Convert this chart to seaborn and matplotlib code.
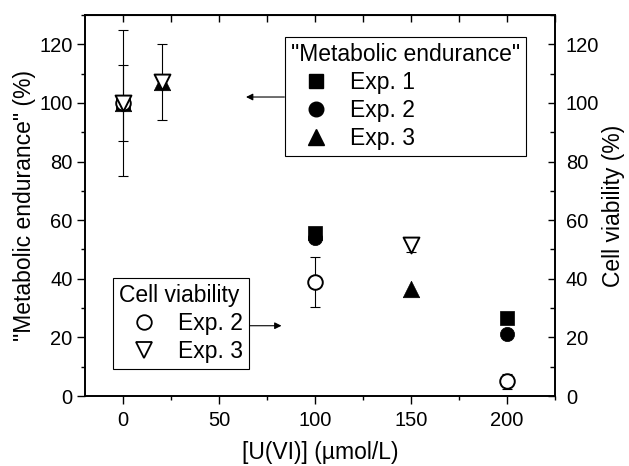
import matplotlib
matplotlib.use("Agg")
import matplotlib.pyplot as plt
from matplotlib.ticker import MultipleLocator
from matplotlib.lines import Line2D
import seaborn as sns
import pandas as pd

# "Metabolic endurance" (filled symbols)
conc_me1 = [0, 100, 200]
me_exp1 = [100, 55.5, 26.5]
conc_me2 = [0, 100, 200]
me_exp2 = [100, 53.8, 21.2]
conc_me3 = [0, 20, 150]
me_exp3 = [100, 107, 36.5]

# Cell viability (open symbols)
conc_cv2 = [0, 100, 200]
cv_exp2 = [100, 39, 5]
cv_err2 = [25, 8.5, 2.5]
conc_cv3 = [0, 20, 150]
cv_exp3 = [100, 107, 51.5]
cv_err3 = [13, 13, 2.5]

sns.set_style("ticks")
plt.rcParams["font.family"] = ["Liberation Sans", "DejaVu Sans"]
for k in ("text.color", "axes.labelcolor", "xtick.color", "ytick.color", "axes.edgecolor"):
    plt.rcParams[k] = "black"

TICK_FS = 14.5
LAB_FS = 16.5

fig = plt.figure(figsize=(6.29, 4.66), dpi=100)
ax = fig.add_axes([0.135, 0.150, 0.747, 0.818])

# error bars first
ax.errorbar(conc_cv2, cv_exp2, yerr=cv_err2, fmt="none", ecolor="black",
            elinewidth=0.8, capsize=3.5, capthick=0.8, zorder=1)
ax.errorbar(conc_cv3, cv_exp3, yerr=cv_err3, fmt="none", ecolor="black",
            elinewidth=0.8, capsize=3.5, capthick=0.8, zorder=1)

me = [(conc_me1, me_exp1, "s", 95), (conc_me2, me_exp2, "o", 105),
      (conc_me3, me_exp3, "^", 140)]
for xs, ys, m, s in me:
    df = pd.DataFrame({"x": xs, "y": ys})
    sns.scatterplot(data=df, x="x", y="y", marker=m, s=s, color="black",
                    edgecolor="black", linewidth=0.5, ax=ax, zorder=3)

cv = [(conc_cv2, cv_exp2, "o", 110), (conc_cv3, cv_exp3, "v", 130)]
for xs, ys, m, s in cv:
    df = pd.DataFrame({"x": xs, "y": ys})
    sns.scatterplot(data=df, x="x", y="y", marker=m, s=s, color="white",
                    edgecolor="black", linewidth=1.4, ax=ax, zorder=4)

ax.set_xlim(-20, 225)
ax.set_ylim(0, 130)
ax.xaxis.set_major_locator(MultipleLocator(50))
ax.xaxis.set_minor_locator(MultipleLocator(25))
ax.yaxis.set_major_locator(MultipleLocator(20))
ax.yaxis.set_minor_locator(MultipleLocator(10))
ax.tick_params(which="both", direction="out", width=1, color="black",
               labelsize=TICK_FS, top=False, right=False)
ax.tick_params(which="major", length=5.5)
ax.tick_params(which="minor", length=3)
ax.tick_params(axis="x", pad=5)
ax.set_xlabel("[U(VI)] (µmol/L)", fontsize=LAB_FS, labelpad=8)
ax.set_ylabel('"Metabolic endurance" (%)', fontsize=LAB_FS, labelpad=2)

# top ticks pointing in
axt = ax.secondary_xaxis("top")
axt.xaxis.set_major_locator(MultipleLocator(50))
axt.xaxis.set_minor_locator(MultipleLocator(25))
axt.tick_params(which="both", direction="in", length=5, width=1, labeltop=False)

# right axis, cell viability
ax2 = ax.twinx()
ax2.set_ylim(0, 130)
ax2.yaxis.set_major_locator(MultipleLocator(20))
ax2.yaxis.set_minor_locator(MultipleLocator(10))
ax2.tick_params(which="both", direction="in", width=1, labelsize=TICK_FS, pad=8)
ax2.tick_params(which="major", length=5)
ax2.tick_params(which="minor", length=3.5)
ax2.set_ylabel("Cell viability (%)", fontsize=LAB_FS, labelpad=2)

for a in (ax, ax2):
    for sp in a.spines.values():
        sp.set_visible(True)
        sp.set_linewidth(1.2)
        sp.set_color("black")

leg_kw = dict(loc="upper left", bbox_transform=fig.transFigure, fancybox=False,
              framealpha=1, edgecolor="black", fontsize=LAB_FS,
              title_fontsize=LAB_FS, handletextpad=0.4, labelspacing=0.22,
              borderpad=0.25, handlelength=2.2, borderaxespad=0)

h_me = [Line2D([], [], ls="none", marker="s", color="black", ms=9.5),
        Line2D([], [], ls="none", marker="o", color="black", ms=10.5),
        Line2D([], [], ls="none", marker="^", color="black", ms=11.5)]
leg1 = ax2.legend(h_me, ["Exp. 1", "Exp. 2", "Exp. 3"], title='"Metabolic endurance"',
                  bbox_to_anchor=(285 / 629, 1 - 37 / 466), **leg_kw)
leg1.get_frame().set_linewidth(0.8)
leg1._legend_box.align = "left"
ax2.add_artist(leg1)

h_cv = [Line2D([], [], ls="none", marker="o", mfc="white", mec="black", mew=1.3, ms=10.5),
        Line2D([], [], ls="none", marker="v", mfc="white", mec="black", mew=1.3, ms=11.5)]
leg2 = ax2.legend(h_cv, ["Exp. 2", "Exp. 3"], title="Cell viability",
                  bbox_to_anchor=(113 / 629, 1 - 278 / 466), **leg_kw)
leg2.get_frame().set_linewidth(0.8)
leg2._legend_box.align = "left"

# arrows from legends to their axis
ax.annotate("", xy=(64, 102), xytext=(84, 102),
            arrowprops=dict(arrowstyle="-|>", color="black", lw=0.8,
                            mutation_scale=10, shrinkA=0, shrinkB=0))
ax.annotate("", xy=(82.5, 24), xytext=(62, 24),
            arrowprops=dict(arrowstyle="-|>", color="black", lw=0.8,
                            mutation_scale=10, shrinkA=0, shrinkB=0))

fig.savefig("out.png", dpi=100, facecolor="white")
